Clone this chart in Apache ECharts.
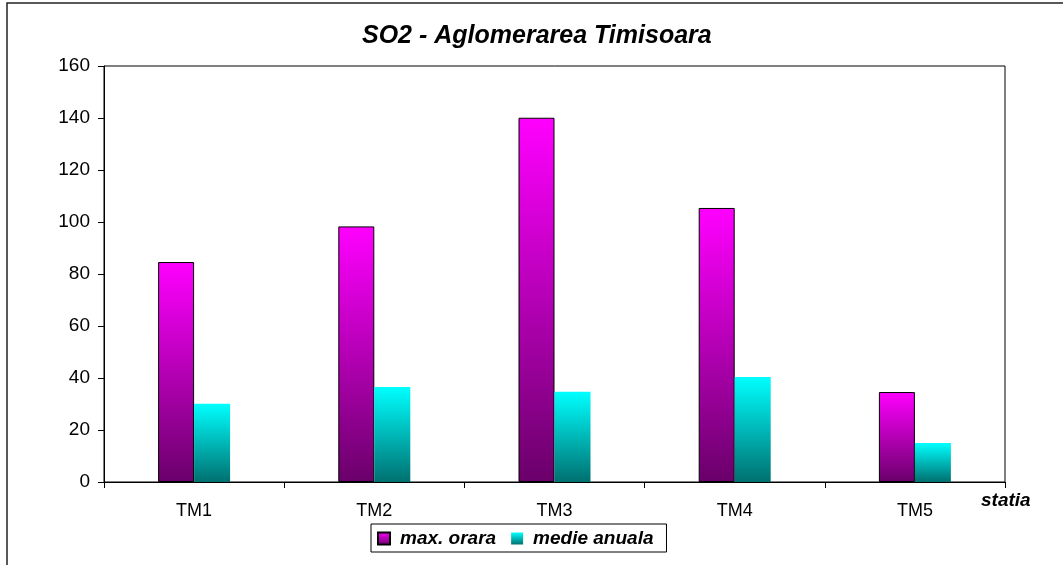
<!DOCTYPE html>
<html>
<head>
<meta charset="utf-8">
<script src="https://cdn.jsdelivr.net/npm/echarts@6/dist/echarts.min.js"></script>
<style>
  html, body { margin: 0; padding: 0; background: #fff; }
  #chart { width: 1063px; height: 565px; }
</style>
</head>
<body>
<div id="chart"></div>
<script>
// Stations and measured SO2 values
const stations = ['TM1', 'TM2', 'TM3', 'TM4', 'TM5'];
const maxOrara = [84.6, 98.3, 140.1, 105.4, 34.6];
const medieAnuala = [30.1, 36.5, 34.7, 40.4, 15.0];
const yTicks = { min: 0, max: 160, step: 20 };

const FONT = '"Liberation Sans", Arial, sans-serif';

function vGrad(top, bottom) {
  return new echarts.graphic.LinearGradient(0, 0, 0, 1, [
    { offset: 0, color: top },
    { offset: 1, color: bottom }
  ]);
}

const chart = echarts.init(document.getElementById('chart'), null, { renderer: 'canvas' });

chart.setOption({
  backgroundColor: '#ffffff',
  animation: false,
  title: {
    text: 'SO2 - Aglomerarea Timisoara',
    left: 357,
    top: 19,
    textStyle: { fontFamily: FONT, fontSize: 25, fontWeight: 'bold', fontStyle: 'italic', color: '#000' }
  },
  legend: {
    left: 371,
    top: 524,
    orient: 'horizontal',
    itemWidth: 12,
    itemHeight: 12,
    itemGap: 15,
    padding: [5, 13, 4, 6],
    borderColor: '#000',
    borderWidth: 1,
    icon: 'rect',
    textStyle: { fontFamily: FONT, fontSize: 19, fontWeight: 'bold', fontStyle: 'italic', color: '#000', padding: [0, 0, 0, 5] },
    data: ['max. orara', 'medie anuala']
  },
  grid: {
    left: 104,
    top: 66,
    width: 901,
    height: 416,
    show: true,
    borderColor: '#000',
    borderWidth: 1,
    backgroundColor: 'transparent'
  },
  xAxis: {
    type: 'category',
    data: stations,
    boundaryGap: true,
    axisLine: { lineStyle: { color: '#000', width: 1 } },
    axisTick: { show: true, length: 6, lineStyle: { color: '#000' } },
    axisLabel: { fontFamily: FONT, fontSize: 18, color: '#000', margin: 20 },
    splitLine: { show: false }
  },
  yAxis: {
    type: 'value',
    min: yTicks.min,
    max: yTicks.max,
    interval: yTicks.step,
    axisLine: { show: true, lineStyle: { color: '#000', width: 1 } },
    axisTick: { show: true, length: 6, lineStyle: { color: '#000' } },
    axisLabel: { fontFamily: FONT, fontSize: 19, color: '#000', margin: 14 },
    splitLine: { show: false }
  },
  series: [
    {
      name: 'max. orara',
      type: 'bar',
      data: maxOrara,
      barWidth: 36,
      barGap: '0%',
      itemStyle: {
        color: vGrad('#ff00ff', '#6a006a'),
        borderColor: '#000',
        borderWidth: 1
      }
    },
    {
      name: 'medie anuala',
      type: 'bar',
      data: medieAnuala,
      barWidth: 36,
      barGap: '0%',
      itemStyle: {
        color: vGrad('#00ffff', '#007070')
      }
    }
  ],
  graphic: [
    {
      type: 'text',
      left: 981,
      top: 491,
      style: { text: 'statia', fontFamily: FONT, fontSize: 19, fontWeight: 'bold', fontStyle: 'italic', fill: '#000' }
    },
    {
      type: 'polyline',
      shape: { points: [[7, 565], [7, 3], [1063, 3]] },
      style: { stroke: '#222', lineWidth: 1.5, fill: null }
    }
  ]
});
</script>
</body>
</html>
